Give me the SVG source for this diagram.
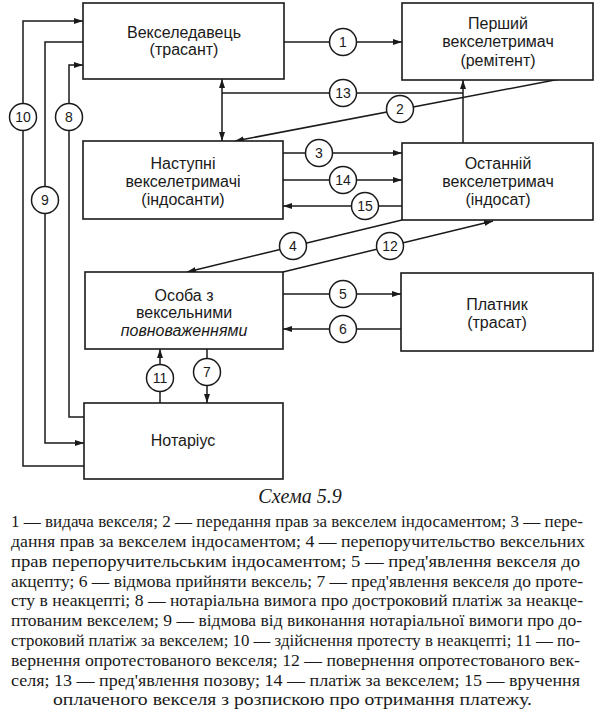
<svg xmlns="http://www.w3.org/2000/svg" width="600" height="712" viewBox="0 0 600 712">
<defs>
<marker id="ah" markerWidth="10" markerHeight="8" refX="9" refY="4" orient="auto" markerUnits="userSpaceOnUse">
<path d="M0,1 L9,4 L0,7 Z" fill="#1a1a1a"/>
</marker>
<marker id="as" markerWidth="10" markerHeight="8" refX="1" refY="4" orient="auto" markerUnits="userSpaceOnUse">
<path d="M10,1 L1,4 L10,7 Z" fill="#1a1a1a"/>
</marker>
<style>
.box{fill:#fff;stroke:#1a1a1a;stroke-width:1.6}
.t{font-family:"Liberation Sans",Arial,sans-serif;font-size:16px;fill:#1a1a1a;text-anchor:middle}
.ln{fill:none;stroke:#1a1a1a;stroke-width:1.5}
.c{fill:#fff;stroke:#1a1a1a;stroke-width:1.5}
.n{font-family:"Liberation Sans",Arial,sans-serif;font-size:14px;fill:#1a1a1a;text-anchor:middle}
.cap{font-family:"Liberation Serif","Times New Roman",serif;font-size:20px;font-style:italic;fill:#1a1a1a;text-anchor:middle}
.b{font-family:"Liberation Serif","Times New Roman",serif;font-size:17px;fill:#1a1a1a}
</style>
</defs>
<rect width="600" height="712" fill="#fff"/>

<g id="connectors">
<line class="ln" x1="284" y1="42" x2="402" y2="42" marker-end="url(#ah)"/>
<line class="ln" x1="463" y1="143" x2="463" y2="80" marker-end="url(#ah)"/>
<line class="ln" x1="463" y1="93" x2="222" y2="93"/>
<line class="ln" x1="222" y1="79" x2="222" y2="141" marker-start="url(#as)" marker-end="url(#ah)"/>
<line class="ln" x1="560" y1="79" x2="235" y2="141" marker-end="url(#ah)"/>
<line class="ln" x1="283" y1="153" x2="402" y2="153" marker-end="url(#ah)"/>
<line class="ln" x1="283" y1="180" x2="402" y2="180" marker-end="url(#ah)"/>
<line class="ln" x1="402" y1="206" x2="283" y2="206" marker-end="url(#ah)"/>
<line class="ln" x1="402" y1="220" x2="187" y2="272" marker-end="url(#ah)"/>
<line class="ln" x1="283" y1="272" x2="493" y2="221" marker-end="url(#ah)"/>
<line class="ln" x1="283" y1="294" x2="401" y2="294" marker-end="url(#ah)"/>
<line class="ln" x1="401" y1="329" x2="283" y2="329" marker-end="url(#ah)"/>
<line class="ln" x1="160" y1="403" x2="160" y2="349" marker-end="url(#ah)"/>
<line class="ln" x1="207" y1="349" x2="207" y2="403" marker-end="url(#ah)"/>
<polyline class="ln" points="84,466 23,466 23,21 83,21" marker-end="url(#ah)"/>
<polyline class="ln" points="83,42 45,42 45,443 84,443" marker-end="url(#ah)"/>
<polyline class="ln" points="84,417 69,417 69,65 83,65" marker-end="url(#ah)"/>

<circle class="c" cx="343" cy="42" r="13.5"/><text class="n" x="343" y="47">1</text>
<circle class="c" cx="400" cy="109" r="13.5"/><text class="n" x="400" y="114">2</text>
<circle class="c" cx="319" cy="153" r="13.5"/><text class="n" x="319" y="158">3</text>
<circle class="c" cx="293" cy="246" r="13.5"/><text class="n" x="293" y="251">4</text>
<circle class="c" cx="343" cy="294" r="13.5"/><text class="n" x="343" y="299">5</text>
<circle class="c" cx="343" cy="329" r="13.5"/><text class="n" x="343" y="334">6</text>
<circle class="c" cx="207" cy="372" r="13.5"/><text class="n" x="207" y="377">7</text>
<circle class="c" cx="69" cy="117" r="13.5"/><text class="n" x="69" y="122">8</text>
<circle class="c" cx="45" cy="200" r="13.5"/><text class="n" x="45" y="205">9</text>
<circle class="c" cx="23" cy="117" r="13.5"/><text class="n" x="23" y="122">10</text>
<circle class="c" cx="160" cy="378" r="13.5"/><text class="n" x="160" y="383">11</text>
<circle class="c" cx="390" cy="246" r="13.5"/><text class="n" x="390" y="251">12</text>
<circle class="c" cx="343" cy="93" r="13.5"/><text class="n" x="343" y="98">13</text>
<circle class="c" cx="343" cy="180" r="13.5"/><text class="n" x="343" y="185">14</text>
<circle class="c" cx="365" cy="206" r="13.5"/><text class="n" x="365" y="211">15</text>
</g>

<g id="drawer">
<rect class="box" x="83" y="3" width="201" height="76"/>
<text class="t" x="184" y="38">Векселедавець</text>
<text class="t" x="184" y="55">(трасант)</text>
</g>
<g id="first-holder">
<rect class="box" x="402" y="3" width="191" height="77"/>
<text class="t" x="498" y="29">Перший</text>
<text class="t" x="498" y="47">векселетримач</text>
<text class="t" x="498" y="66">(ремітент)</text>
</g>
<g id="next-holders">
<rect class="box" x="83" y="141" width="200" height="78"/>
<text class="t" x="183" y="169">Наступні</text>
<text class="t" x="183" y="187">векселетримачі</text>
<text class="t" x="183" y="205">(індосанти)</text>
</g>
<g id="last-holder">
<rect class="box" x="402" y="143" width="191" height="77"/>
<text class="t" x="498" y="169">Останній</text>
<text class="t" x="498" y="187">векселетримач</text>
<text class="t" x="498" y="205">(індосат)</text>
</g>
<g id="authorized">
<rect class="box" x="85" y="272" width="198" height="77"/>
<text class="t" x="184" y="301">Особа з</text>
<text class="t" x="184" y="318">вексельними</text>
<text class="t" x="184" y="336" font-style="italic">повноваженнями</text>
</g>
<g id="payer">
<rect class="box" x="401" y="273" width="192" height="78"/>
<text class="t" x="497" y="310">Платник</text>
<text class="t" x="497" y="328">(трасат)</text>
</g>
<g id="notary">
<rect class="box" x="84" y="403" width="199" height="76"/>
<text class="t" x="183" y="446">Нотаріус</text>
</g>

<text class="cap" x="300" y="503">Схема 5.9</text>
<g class="b">
<text x="11" y="527" textLength="572" lengthAdjust="spacingAndGlyphs">1 — видача векселя; 2 — передання прав за векселем індосаментом; 3 — пере-</text>
<text x="11" y="547" textLength="574" lengthAdjust="spacingAndGlyphs">дання прав за векселем індосаментом; 4 — перепоручительство вексельних</text>
<text x="11" y="567" textLength="569" lengthAdjust="spacingAndGlyphs">прав перепоручительським індосаментом; 5 — пред'явлення векселя до</text>
<text x="11" y="587" textLength="572" lengthAdjust="spacingAndGlyphs">акцепту; 6 — відмова прийняти вексель; 7 — пред'явлення векселя до проте-</text>
<text x="11" y="606" textLength="572" lengthAdjust="spacingAndGlyphs">сту в неакцепті; 8 — нотаріальна вимога про достроковий платіж за неакце-</text>
<text x="11" y="626" textLength="571" lengthAdjust="spacingAndGlyphs">птованим векселем; 9 — відмова від виконання нотаріальної вимоги про до-</text>
<text x="11" y="646" textLength="569" lengthAdjust="spacingAndGlyphs">строковий платіж за векселем; 10 — здійснення протесту в неакцепті; 11 — по-</text>
<text x="11" y="666" textLength="569" lengthAdjust="spacingAndGlyphs">вернення опротестованого векселя; 12 — повернення опротестованого век-</text>
<text x="11" y="686" textLength="569" lengthAdjust="spacingAndGlyphs">селя; 13 — пред'явлення позову; 14 — платіж за векселем; 15 — вручення</text>
<text x="53" y="705" textLength="479" lengthAdjust="spacingAndGlyphs">оплаченого векселя з розпискою про отримання платежу.</text>
</g>
</svg>
